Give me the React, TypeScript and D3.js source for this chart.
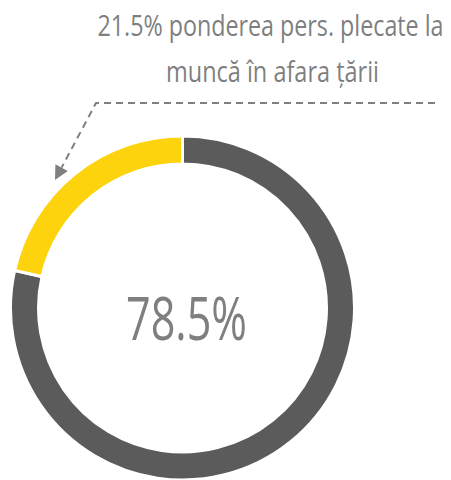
import React, { useLayoutEffect, useRef, useState } from "react";
import * as d3 from "d3";

const categories = ["rămași", "plecați la muncă în afara țării"];
const values = [78.5, 21.5];
const colors = ["#5b5b5b", "#fdd30d"];
const centerLabel = "78.5%";
const annotationLines = ["21.5% ponderea pers. plecate la", "muncă în afara țării"];

const W = 451;
const H = 480;
const font = "'Open Sans', 'DejaVu Sans', sans-serif";
const textColor = "#7f7f7f";

function FitText({ x, y, width, size, children }: { x: number; y: number; width: number; size: number; children: string }) {
  const ref = useRef<SVGTextElement>(null);
  const [sx, setSx] = useState(0.75);
  useLayoutEffect(() => {
    if (ref.current) {
      const w = ref.current.getComputedTextLength();
      if (w > 0) setSx(width / w);
    }
  }, [width, children]);
  return (
    <g transform={`translate(${x},${y}) scale(${sx},1)`}>
      <text ref={ref} x={0} y={0} textAnchor="middle" fontFamily={font} fontWeight={400} fontSize={size} fill={textColor}>
        {children}
      </text>
    </g>
  );
}

export default function App() {
  const cx = 182.5;
  const cy = 308;
  const outerR = 172;
  const innerR = 144;
  const pie = d3.pie<number>().sort(null).value((d) => d);
  const arcs = pie(values);
  const arc = d3.arc<d3.PieArcDatum<number>>().innerRadius(innerR).outerRadius(outerR);

  // leader line points
  const lx0 = 435, ly0 = 103;
  const lx1 = 96, ly1 = 103;
  const tipX = 55, tipY = 180;
  const ang = Math.atan2(tipY - ly1, tipX - lx1);
  const headLen = 14, headW = 7;
  const bx = tipX - headLen * Math.cos(ang);
  const by = tipY - headLen * Math.sin(ang);
  const px = -Math.sin(ang), py = Math.cos(ang);
  const head = `M${tipX},${tipY}L${bx + px * headW},${by + py * headW}L${bx - px * headW},${by - py * headW}Z`;

  return (
    <svg width={W} height={H} style={{ position: "absolute", left: 0, top: 0 }}>
      <rect width={W} height={H} fill="#fff" />
      <g transform={`translate(${cx},${cy})`}>
        {arcs.map((a, i) => (
          <path key={categories[i]} d={arc(a) || ""} fill={colors[i]} stroke="#fff" strokeWidth={3} />
        ))}
      </g>
      <FitText x={cx + 4} y={cy + 32} width={121} size={60}>{centerLabel}</FitText>
      <FitText x={270.5} y={36} width={346} size={30}>{annotationLines[0]}</FitText>
      <FitText x={272.5} y={82} width={213} size={30}>{annotationLines[1]}</FitText>
      <path
        d={`M${lx0},${ly0}L${lx1},${ly1}L${bx},${by}`}
        fill="none"
        stroke={textColor}
        strokeWidth={2}
        strokeDasharray="7,5"
      />
      <path d={head} fill={textColor} />
    </svg>
  );
}
